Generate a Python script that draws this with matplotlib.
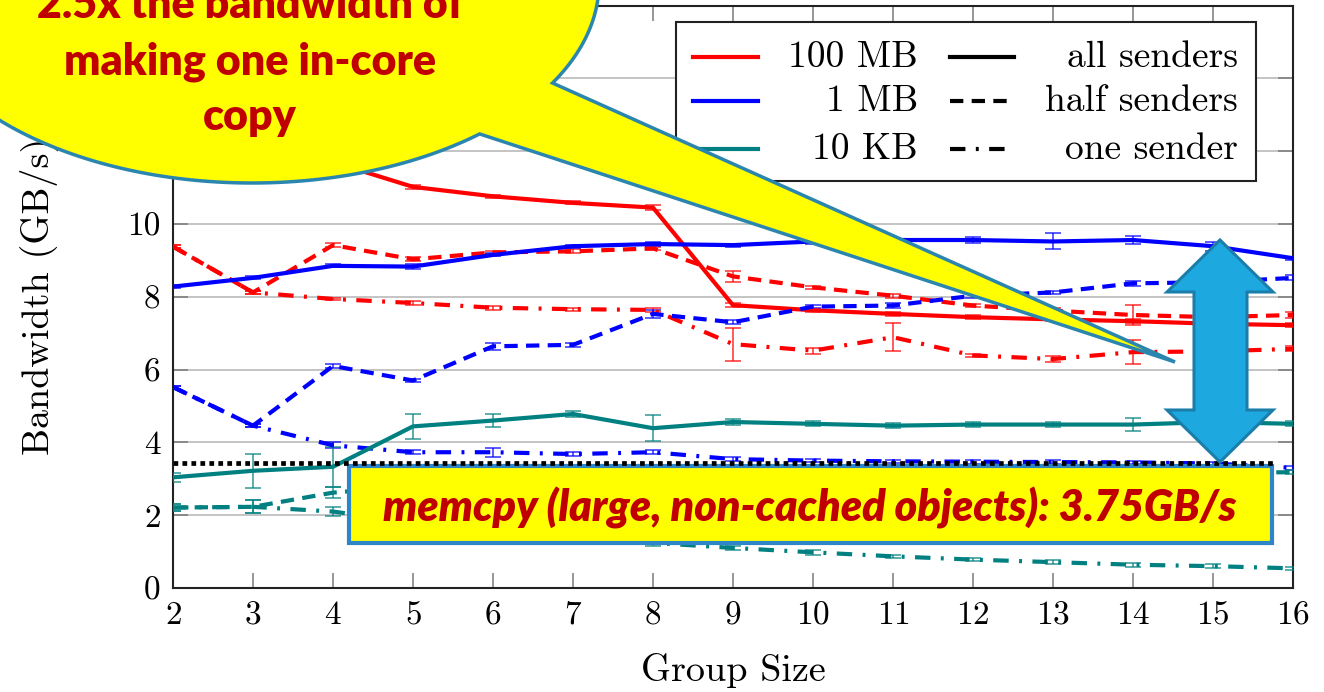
import numpy as np
import matplotlib
matplotlib.use('Agg')
import matplotlib.pyplot as plt
from matplotlib.patches import Polygon, Rectangle
from matplotlib.lines import Line2D

W, H, DPI = 1324, 692, 100

# ---------------- data ----------------
group_size = [2, 3, 4, 5, 6, 7, 8, 9, 10, 11, 12, 13, 14, 15, 16]

red_all  = [13.2, 12.6, 11.7, 11.02, 10.76, 10.58, 10.45, 7.77, 7.63, 7.53, 7.44, 7.38, 7.33, 7.26, 7.22]
red_half = [9.38, 8.12, 9.42, 9.03, 9.22, 9.25, 9.33, 8.56, 8.26, 8.03, 7.76, 7.62, 7.50, 7.44, 7.50]
red_one  = [9.38, 8.12, 7.94, 7.83, 7.70, 7.66, 7.64, 6.70, 6.52, 6.89, 6.39, 6.29, 6.48, 6.50, 6.57]
blue_all  = [8.28, 8.52, 8.85, 8.83, 9.15, 9.39, 9.45, 9.42, 9.52, 9.56, 9.56, 9.52, 9.56, 9.39, 9.06]
blue_half = [5.52, 4.46, 6.10, 5.70, 6.64, 6.68, 7.53, 7.30, 7.73, 7.76, 8.03, 8.12, 8.37, 8.40, 8.52]
blue_one  = [5.52, 4.46, 3.92, 3.73, 3.73, 3.68, 3.73, 3.54, 3.50, 3.48, 3.47, 3.46, 3.45, 3.42, 3.30]
teal_all  = [3.04, 3.22, 3.33, 4.44, 4.60, 4.78, 4.39, 4.56, 4.51, 4.46, 4.49, 4.49, 4.49, 4.56, 4.51]
teal_half = [2.21, 2.23, 2.62, 2.80, 2.90, 3.00, 3.00, 3.05, 3.10, 3.10, 3.12, 3.15, 3.15, 3.17, 3.18]
teal_one  = [2.21, 2.23, 2.10, 1.80, 1.60, 1.45, 1.24, 1.10, 0.98, 0.87, 0.78, 0.71, 0.64, 0.60, 0.54]

red_all_err   = [0.05, 0.05, 0.05, 0.05, 0.04, 0.04, 0.06, 0.05, 0.04, 0.05, 0.05, 0.05, 0.06, 0.05, 0.05]
red_half_err  = [0.05, 0.05, 0.06, 0.05, 0.04, 0.05, 0.05, 0.14, 0.05, 0.06, 0.05, 0.06, 0.27, 0.06, 0.08]
red_one_err   = [0.05, 0.05, 0.04, 0.05, 0.06, 0.04, 0.05, 0.45, 0.08, 0.38, 0.05, 0.07, 0.32, 0.05, 0.07]
blue_all_err  = [0.05, 0.04, 0.04, 0.06, 0.04, 0.04, 0.06, 0.04, 0.06, 0.05, 0.08, 0.22, 0.10, 0.12, 0.04]
blue_half_err = [0.04, 0.05, 0.05, 0.05, 0.10, 0.06, 0.10, 0.05, 0.05, 0.08, 0.05, 0.05, 0.06, 0.05, 0.07]
blue_one_err  = [0.04, 0.05, 0.08, 0.05, 0.12, 0.05, 0.05, 0.05, 0.05, 0.05, 0.05, 0.05, 0.05, 0.05, 0.05]
teal_all_err  = [0.12, 0.47, 0.55, 0.35, 0.18, 0.07, 0.36, 0.07, 0.07, 0.07, 0.07, 0.08, 0.18, 0.06, 0.07]
teal_half_err = [0.10, 0.18, 0.15, 0.08, 0.08, 0.08, 0.08, 0.08, 0.08, 0.08, 0.08, 0.08, 0.08, 0.08, 0.06]
teal_one_err  = [0.10, 0.18, 0.12, 0.08, 0.08, 0.08, 0.08, 0.06, 0.06, 0.05, 0.05, 0.05, 0.05, 0.05, 0.05]

memcpy_level = 3.43
memcpy_span = [2, 15.75]

y_ticks = [0, 2, 4, 6, 8, 10, 12, 14, 16]
y_tick_labels = ['0', '2', '4', '6', '8', '10', '', '', '']   # 12-16 hidden under the callout
size_labels = ['100 MB', '1 MB', '10 KB']
sender_labels = ['all senders', 'half senders', 'one sender']
x_label = 'Group Size'
y_label = 'Bandwidth (GB/s)'
bubble_lines = ['2.5x the bandwidth of', 'making one in-core', 'copy']
memcpy_text = 'memcpy (large, non-cached objects): 3.75GB/s'

# ---------------- styles ----------------
RED, BLUE, TEAL = '#ff0000', '#0000ff', '#008080'
LW = 3.0
STY = {'all': dict(ls='-'),
       'half': dict(dashes=(3.2, 2.0)),
       'one': dict(dashes=(3.7, 2.5, 0.7, 2.5))}
CM = ['cmr10', 'DejaVu Serif']
plt.rcParams['axes.formatter.use_mathtext'] = True

fig = plt.figure(figsize=(W / DPI, H / DPI), dpi=DPI)
ax = fig.add_axes([173 / W, 1 - 588 / H, (1293 - 173) / W, (588 - 5.6) / H])
ax.set_xlim(2, 16)
ax.set_ylim(0, 16)
ax.set_xticks(group_size)
ax.set_yticks(y_ticks)
ax.set_yticklabels(y_tick_labels)
ax.yaxis.grid(True, color='#c4c4c4', lw=1.4)
ax.set_axisbelow(True)
ax.tick_params(direction='in', length=11, width=1.1, color='#7a7a7a',
               top=True, right=True, labelsize=24, pad=9)
for lab in ax.get_xticklabels() + ax.get_yticklabels():
    lab.set_family(CM)
for s in ax.spines.values():
    s.set_linewidth(1.5)
    s.set_color('#222222')

ax.set_xlabel(x_label, fontsize=27.5, family=CM)
ax.set_ylabel(y_label, fontsize=27.5, family=CM)
ax.xaxis.set_label_coords(0.5, -0.112)
ax.yaxis.set_label_coords(-0.103, 0.5)

series = [
    (red_all, red_all_err, RED, 'all'), (red_half, red_half_err, RED, 'half'), (red_one, red_one_err, RED, 'one'),
    (blue_all, blue_all_err, BLUE, 'all'), (blue_half, blue_half_err, BLUE, 'half'), (blue_one, blue_one_err, BLUE, 'one'),
    (teal_all, teal_all_err, TEAL, 'all'), (teal_half, teal_half_err, TEAL, 'half'), (teal_one, teal_one_err, TEAL, 'one'),
]
for ys, es, c, kind in series:
    ax.errorbar(group_size, ys, yerr=es, fmt='none', ecolor=c, elinewidth=1.2,
                capsize=6, capthick=1.2, alpha=0.75, zorder=3)
    ax.plot(group_size, ys, color=c, lw=LW, zorder=4, solid_capstyle='butt',
            dash_capstyle='butt', **STY[kind])

# memcpy reference (dotted)
ax.plot(memcpy_span, [memcpy_level, memcpy_level], color='black', lw=3.4,
        dashes=(1, 0.9), dash_capstyle='butt', zorder=12)

# ---------------- helpers in pixel coords ----------------
def P(x, y):
    return (x / W, 1 - y / H)

TF = fig.transFigure

# ---------------- legend (manual) ----------------
ax.add_patch(Rectangle(P(676, 181), 580 / W, 159 / H, transform=TF, clip_on=False,
                       fc='white', ec='#222222', lw=1.5, zorder=8))
rows = [57, 101, 149]
for i, (c, kind) in enumerate(zip([RED, BLUE, TEAL], ['all', 'half', 'one'])):
    y = rows[i]
    l1 = Line2D([P(693, y)[0], P(758, y)[0]], [P(693, y)[1]] * 2, transform=TF, color=c,
                lw=LW, clip_on=False, zorder=9)
    ax.add_line(l1)
    ax.text(*P(918, y), size_labels[i], transform=TF, ha='right', va='center',
            fontsize=27, family=CM, zorder=9)
    l2 = Line2D([P(950, y)[0], P(1014, y)[0]], [P(950, y)[1]] * 2, transform=TF, color='black',
                lw=LW, clip_on=False, zorder=9, dash_capstyle='butt', **STY[kind])
    ax.add_line(l2)
    ax.text(*P(1238, y), sender_labels[i], transform=TF, ha='right', va='center',
            fontsize=27, family=CM, zorder=9)

# ---------------- callout bubble ----------------
cx, cy, a, b = 252, -17, 347, 200
t = np.radians(np.linspace(49, 390, 300))
pts = [P(cx + a * np.cos(tt), cy + b * np.sin(tt)) for tt in t]
pts.append(P(1175, 362))
ax.add_patch(Polygon(pts, closed=True, transform=TF, clip_on=False, fc='#ffff00',
                     ec='#2a86ae', lw=2.5, zorder=20))
for txt, yb in zip(bubble_lines, [18, 75, 130]):
    ax.text(*P(250, yb), txt, transform=TF, ha='center', va='baseline', fontsize=31,
            family='Lato', weight='heavy', color='#c00000', zorder=21)

# ---------------- memcpy box ----------------
ax.add_patch(Rectangle(P(349, 543), (1272 - 349) / W, (543 - 466) / H, transform=TF,
                       clip_on=False, fc='#ffff00', ec='#2e86c8', lw=3, zorder=11))
ax.text(*P(810, 508), memcpy_text, transform=TF, ha='center', va='center', fontsize=31,
        family='Lato', weight='heavy', style='italic', color='#c00000', zorder=13)

# ---------------- double arrow ----------------
arrow = [(1220, 240), (1273, 292), (1247, 292), (1247, 410), (1273, 410), (1220, 462),
         (1167, 410), (1194, 410), (1194, 292), (1167, 292)]
ax.add_patch(Polygon([P(*p) for p in arrow], closed=True, transform=TF, clip_on=False,
                     fc='#1ea8e0', ec='#1b7eaa', lw=2.2, zorder=14))

fig.savefig('out.png', dpi=DPI)
